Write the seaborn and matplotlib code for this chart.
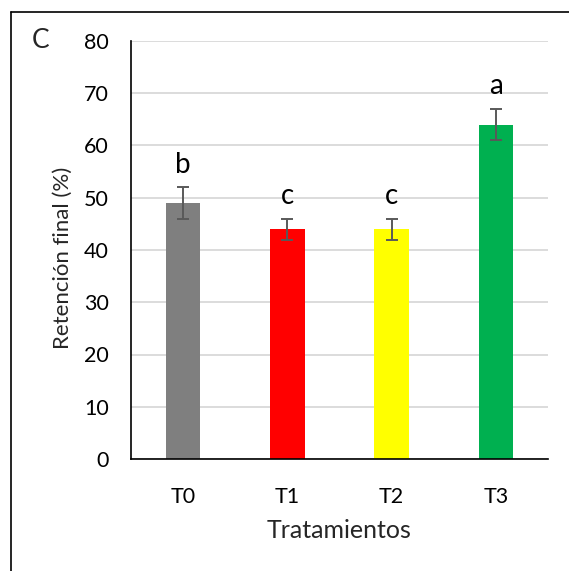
import matplotlib
matplotlib.use("Agg")
import matplotlib.pyplot as plt
from matplotlib.lines import Line2D
import seaborn as sns
import pandas as pd

categories = ["T0", "T1", "T2", "T3"]
values = [49, 44, 44, 64]
errors = [3, 2, 2, 3]
letters = ["b", "c", "c", "a"]
colors = ["#7f7f7f", "#ff0000", "#ffff00", "#00b050"]
y_ticks = [0, 10, 20, 30, 40, 50, 60, 70, 80]

sns.set_style("white")
plt.rcParams["font.family"] = ["Lato", "DejaVu Sans"]

W, H = 569, 571
fig = plt.figure(figsize=(W / 100, H / 100), dpi=100)
ax = fig.add_axes([131 / W, (H - 459) / H, (548 - 131) / W, (459 - 41) / H])

df = pd.DataFrame({"Tratamiento": categories, "Retencion": values})
sns.barplot(data=df, x="Tratamiento", y="Retencion", hue="Tratamiento",
            palette=colors, saturation=1, width=0.33, linewidth=0, legend=False,
            ax=ax, errorbar=None)
ax.errorbar(range(len(categories)), values, yerr=errors, fmt="none",
            ecolor="#595959", elinewidth=1.4, capsize=4.5, capthick=1.4, zorder=3)

for i, (v, e, l) in enumerate(zip(values, errors, letters)):
    ax.annotate(l, (i, v + e), xytext=(0, 10.5), textcoords="offset points",
                ha="center", va="baseline", fontsize=20, color="black")

ax.set_ylim(0, 80)
ax.set_xlim(-0.5, len(categories) - 0.5)
ax.set_yticks(y_ticks)
ax.yaxis.grid(True, color="#d9d9d9", linewidth=1.3)
ax.xaxis.grid(False)
ax.set_axisbelow(True)
ax.tick_params(axis="both", length=0, labelsize=15.5, colors="black")
ax.tick_params(axis="y", pad=16)
ax.tick_params(axis="x", pad=20)
for s in ["top", "right"]:
    ax.spines[s].set_visible(False)
for s in ["left", "bottom"]:
    ax.spines[s].set_color("black")
    ax.spines[s].set_linewidth(1.2)

ax.set_xlabel("Tratamientos", fontsize=18, va="center")
ax.xaxis.set_label_coords(0.5, (459 - 530) / (459 - 41))
ax.set_ylabel("Retención final (%)", fontsize=16, va="center")
ax.yaxis.set_label_coords((63 - 131) / (548 - 131), (459 - 258) / (459 - 41))

fig.text(41 / W, 1 - 40.5 / H, "C", fontsize=19, ha="center", va="center")

fig.add_artist(Line2D([11 / W, 11 / W], [0, 1 - 12 / H], transform=fig.transFigure,
                      color="black", linewidth=1.2))
fig.add_artist(Line2D([11 / W, 1], [1 - 12 / H, 1 - 12 / H], transform=fig.transFigure,
                      color="black", linewidth=1.2))

fig.savefig("out.png", dpi=100, facecolor="white")
